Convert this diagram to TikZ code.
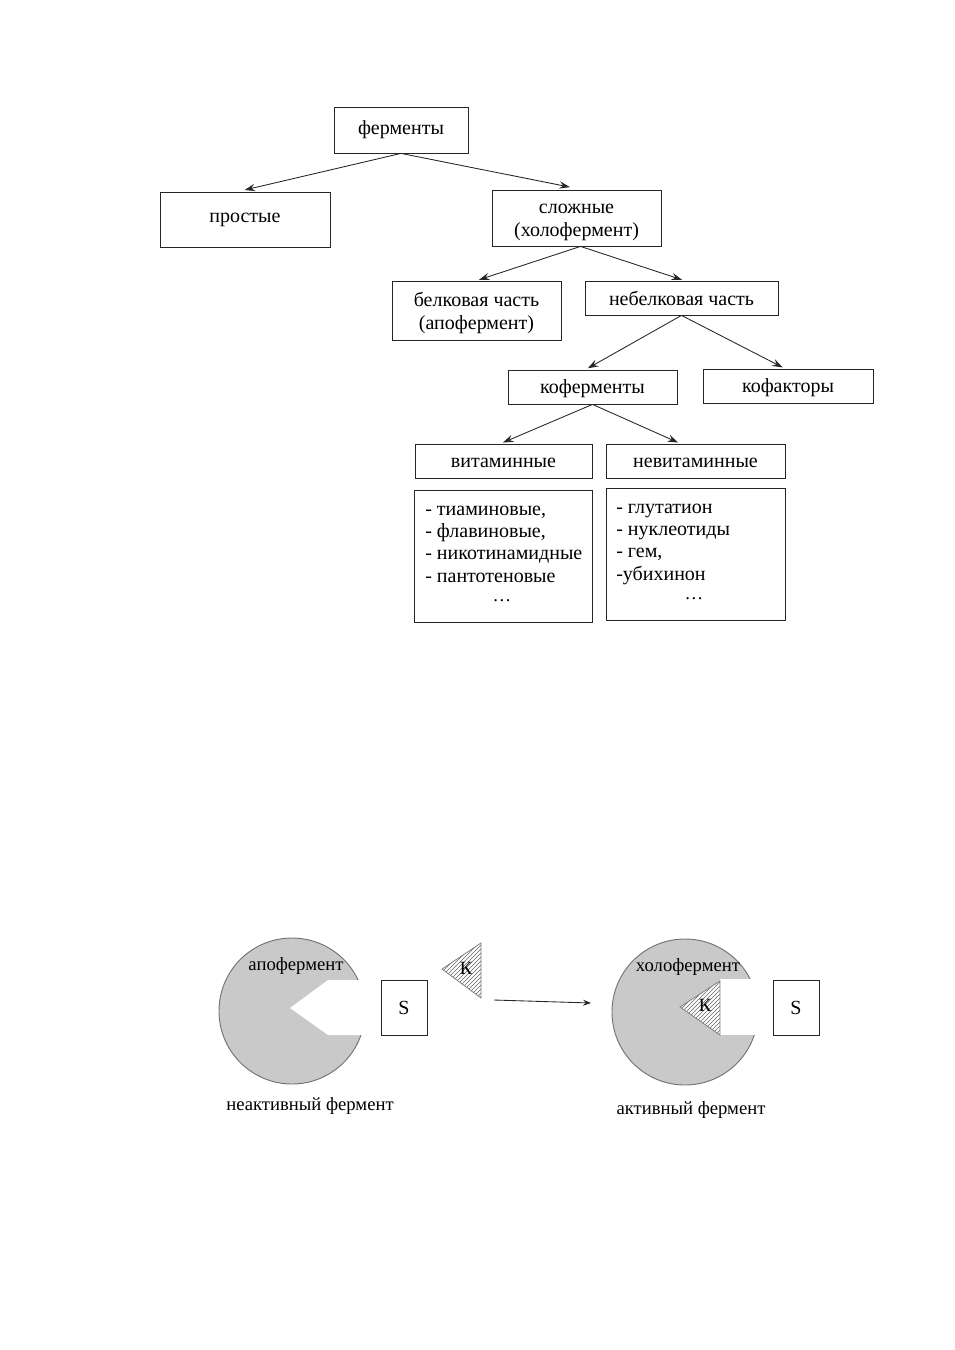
\documentclass[tikz,border=0pt]{standalone}
\usepackage{fontspec}
\setmainfont{Liberation Serif}
\usetikzlibrary{arrows,arrows.meta,calc,shapes,patterns}

\tikzset{
  blok/.style 2 args={draw=black!85,line width=0.6pt,rectangle,align=center,inner sep=0pt,
    minimum width=#1*0.75pt,minimum height=#2*0.75pt,font=\fontsize{15}{17.5}\selectfont},
  tekst/.style={align=center,inner sep=0pt,font=\fontsize{15}{17.3}\selectfont},
  spisok/.style={anchor=north west,align=left,inner sep=0pt,font=\fontsize{15}{16.7}\selectfont},
  arr/.style={-{Stealth[length=8pt,width=5.5pt,inset=3pt]},line width=0.65pt,draw=black!85,shorten >=2pt},
  enz/.style={fill=black!21,draw=black!55,line width=0.7pt},
  kof/.style={pattern=north east lines,pattern color=black!60,draw=black!50,line width=0.6pt,
    preaction={fill=white}},
  podpis/.style={inner sep=0pt,font=\fontsize{14}{16}\selectfont}
}

\begin{document}
\begin{tikzpicture}[x=0.75pt,y=-0.75pt]
\useasboundingbox (0,0) rectangle (954,1350);
% the tree
\node[blok={134}{46}] (ferm) at (401,130) {ферменты};
\node[blok={170}{55}] (prost) at (245,219.5) {простые};
\node[blok={169}{56}] (slozh) at (576.5,218) {};
\node[tekst] (slozhtxt) at (576.5,222.5) {сложные\\(холофермент)};
\node[blok={169}{59}] (belk) at (476.5,310.5) {};
\node[tekst] (belktxt) at (476.5,312.5) {белковая часть\\(апофермент)};
\node[blok={193}{34}] (nebelk) at (681.5,298) {небелковая часть};
\node[blok={169}{34}] (koferm) at (592.5,387) {};
\node[tekst] (kofermtxt) at (592.5,389) {коферменты};
\node[blok={170}{34}] (kofakt) at (788,386) {};
\node[tekst] (kofakttxt) at (788,388) {кофакторы};
\node[blok={177}{34}] (vitam) at (503.5,461) {};
\node[tekst] (vitamtxt) at (503.5,463) {витаминные};
\node[blok={179}{34}] (nevitam) at (695.5,461) {};
\node[tekst] (nevitamtxt) at (695.5,463) {невитаминные};
\node[blok={178}{132}] (vitlist) at (503,556) {};
\node[blok={179}{132}] (nevitlist) at (695.5,554) {};
\node[spisok] (vittext) at (425,505.5) {- тиаминовые,\\- флавиновые,\\- никотинамидные\\- пантотеновые};
\node[podpis] (vitdots) at (502,601) {\dots};
\node[spisok] (nevittext) at (616,503.5) {- глутатион\\- нуклеотиды\\- гем,\\-убихинон};
\node[podpis] (nevitdots) at (694,599) {\dots};

\draw[arr] (ferm.south) -- ($(prost.north)+(-3,-1)$);
\draw[arr] (ferm.south) -- ($(slozh.north)+(-4,-2)$);
\draw[arr] ($(slozh.south)+(4,0)$) -- (belk.north);
\draw[arr] ($(slozh.south)+(4,0)$) -- ($(nebelk.north)+(3,0)$);
\draw[arr] (nebelk.south) -- ($(koferm.north)+(-7,0)$);
\draw[arr] (nebelk.south) -- ($(kofakt.north)+(-3,0)$);
\draw[arr] (koferm.south) -- ($(vitam.north)+(-3,0)$);
\draw[arr] (koferm.south) -- ($(nevitam.north)+(-15,0)$);

% inactive enzyme
\draw[enz] (292,1011) circle (73);
\fill[white] (328,980) -- (290,1008) -- (328,1035) -- (372,1035) -- (372,980) -- cycle;
\node[podpis] (apo) at (296,966) {апофермент};
\node[blok={46}{55}] (subst1) at (404,1007.5) {S};
\draw[kof] (481,943) -- (442,969) -- (481,998) -- cycle;
\node[podpis] (kof1) at (466,968) {К};
\node[podpis] (inakt) at (310,1106) {неактивный фермент};

\coordinate (strelka1) at (494,1000);
\coordinate (strelka2) at (591,1003);
\draw[arr,shorten >=0pt,-{Stealth[length=6pt,width=4.5pt,inset=2.2pt]}] (strelka1) -- (strelka2);

% active enzyme
\draw[enz] (685,1012) circle (73);
\fill[white] (720,979) rectangle (764,1035);
\draw[kof] (720,981) -- (680,1007) -- (720,1035) -- cycle;
\node[podpis] (holo) at (688,967) {холофермент};
\node[podpis] (kof2) at (705,1005) {К};
\node[blok={46}{55}] (subst2) at (796,1007.5) {S};
\node[podpis] (akt) at (691,1110) {активный фермент};
\end{tikzpicture}
\end{document}
